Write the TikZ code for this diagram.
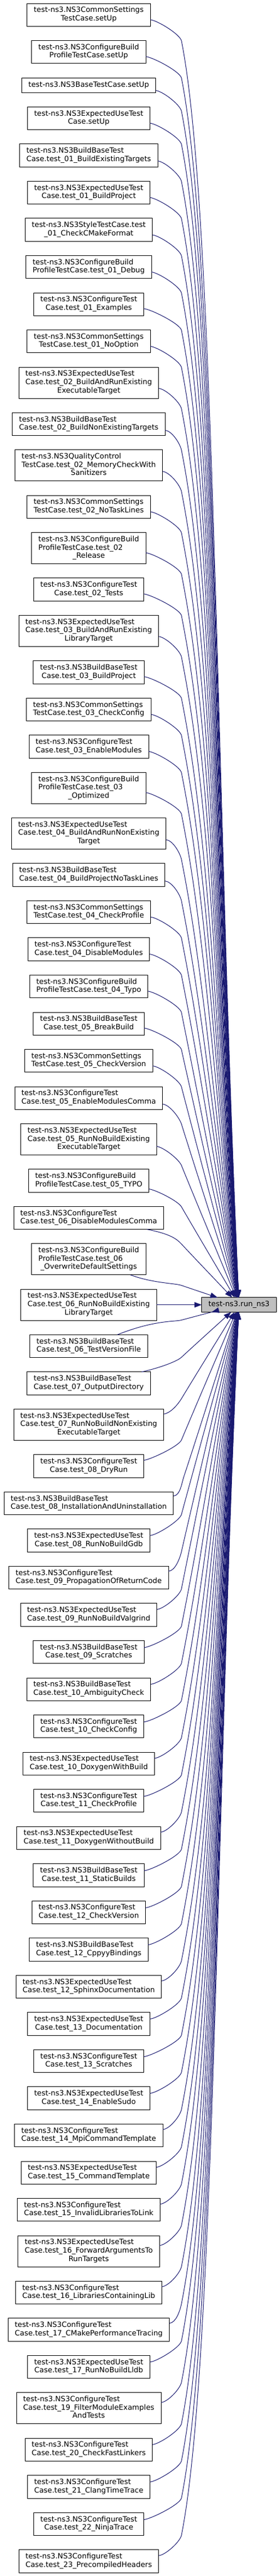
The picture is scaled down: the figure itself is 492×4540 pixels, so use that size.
\documentclass[tikz,border=0pt]{standalone}
\usepackage{fontspec}
\setmainfont{DejaVu Sans}
\usetikzlibrary{positioning,arrows.meta,calc}
\definecolor{edgeblue}{RGB}{25,25,112}
\definecolor{greyseventyfive}{RGB}{191,191,191}
\newcommand\labA[1]{\begin{tabular}{@{}c@{}}#1\end{tabular}}
\newcommand\labB[2]{\begin{tabular}{@{}l@{}}#1\\\multicolumn{1}{@{}c@{}}{#2}\end{tabular}}
\newcommand\labC[3]{\begin{tabular}{@{}l@{}}#1\\#2\\\multicolumn{1}{@{}c@{}}{#3}\end{tabular}}
\tikzset{
  boxbase/.style={draw=black, line width=0.9pt, fill=white, inner xsep=11.8pt, inner ysep=0pt, outer sep=0pt, font=\fontsize{12.9}{14.6}\selectfont, text=black},
  boxa/.style={boxbase, minimum height=26pt},
  boxb/.style={boxbase, minimum height=40.3pt},
  boxc/.style={boxbase, minimum height=55pt},
  callarrow/.style={draw=edgeblue, line width=1pt, -{Triangle[length=13pt,width=9.5pt]}},
}
\begin{document}
\begin{tikzpicture}[x=1pt,y=1pt]
\useasboundingbox (0,0) rectangle (492,-4540);
\node[boxb, anchor=north] (n1) at (156.5,-6) {\labB{test-ns3.NS3CommonSettings}{TestCase.setUp}};
\node[boxb, below=25.24pt of n1] (n2) {\labB{test-ns3.NS3ConfigureBuild}{ProfileTestCase.setUp}};
\node[boxa, below=25.24pt of n2] (n3) {\labA{test-ns3.NS3BaseTestCase.setUp}};
\node[boxb, below=25.24pt of n3] (n4) {\labB{test-ns3.NS3ExpectedUseTest}{Case.setUp}};
\node[boxb, below=25.24pt of n4] (n5) {\labB{test-ns3.NS3BuildBaseTest}{Case.test\_01\_BuildExistingTargets}};
\node[boxb, below=25.24pt of n5] (n6) {\labB{test-ns3.NS3ExpectedUseTest}{Case.test\_01\_BuildProject}};
\node[boxb, below=25.24pt of n6] (n7) {\labB{test-ns3.NS3StyleTestCase.test}{\_01\_CheckCMakeFormat}};
\node[boxb, below=25.24pt of n7] (n8) {\labB{test-ns3.NS3ConfigureBuild}{ProfileTestCase.test\_01\_Debug}};
\node[boxb, below=25.24pt of n8] (n9) {\labB{test-ns3.NS3ConfigureTest}{Case.test\_01\_Examples}};
\node[boxb, below=25.24pt of n9] (n10) {\labB{test-ns3.NS3CommonSettings}{TestCase.test\_01\_NoOption}};
\node[boxc, below=25.24pt of n10] (n11) {\labC{test-ns3.NS3ExpectedUseTest}{Case.test\_02\_BuildAndRunExisting}{ExecutableTarget}};
\node[boxb, below=25.24pt of n11] (n12) {\labB{test-ns3.NS3BuildBaseTest}{Case.test\_02\_BuildNonExistingTargets}};
\node[boxc, below=25.24pt of n12] (n13) {\labC{test-ns3.NS3QualityControl}{TestCase.test\_02\_MemoryCheckWith}{Sanitizers}};
\node[boxb, below=25.24pt of n13] (n14) {\labB{test-ns3.NS3CommonSettings}{TestCase.test\_02\_NoTaskLines}};
\node[boxc, below=25.24pt of n14] (n15) {\labC{test-ns3.NS3ConfigureBuild}{ProfileTestCase.test\_02}{\_Release}};
\node[boxb, below=25.24pt of n15] (n16) {\labB{test-ns3.NS3ConfigureTest}{Case.test\_02\_Tests}};
\node[boxc, below=25.24pt of n16] (n17) {\labC{test-ns3.NS3ExpectedUseTest}{Case.test\_03\_BuildAndRunExisting}{LibraryTarget}};
\node[boxb, below=25.24pt of n17] (n18) {\labB{test-ns3.NS3BuildBaseTest}{Case.test\_03\_BuildProject}};
\node[boxb, below=25.24pt of n18] (n19) {\labB{test-ns3.NS3CommonSettings}{TestCase.test\_03\_CheckConfig}};
\node[boxb, below=25.24pt of n19] (n20) {\labB{test-ns3.NS3ConfigureTest}{Case.test\_03\_EnableModules}};
\node[boxc, below=25.24pt of n20] (n21) {\labC{test-ns3.NS3ConfigureBuild}{ProfileTestCase.test\_03}{\_Optimized}};
\node[boxc, below=25.24pt of n21] (n22) {\labC{test-ns3.NS3ExpectedUseTest}{Case.test\_04\_BuildAndRunNonExisting}{Target}};
\node[boxb, below=25.24pt of n22] (n23) {\labB{test-ns3.NS3BuildBaseTest}{Case.test\_04\_BuildProjectNoTaskLines}};
\node[boxb, below=25.24pt of n23] (n24) {\labB{test-ns3.NS3CommonSettings}{TestCase.test\_04\_CheckProfile}};
\node[boxb, below=25.24pt of n24] (n25) {\labB{test-ns3.NS3ConfigureTest}{Case.test\_04\_DisableModules}};
\node[boxb, below=25.24pt of n25] (n26) {\labB{test-ns3.NS3ConfigureBuild}{ProfileTestCase.test\_04\_Typo}};
\node[boxb, below=25.24pt of n26] (n27) {\labB{test-ns3.NS3BuildBaseTest}{Case.test\_05\_BreakBuild}};
\node[boxb, below=25.24pt of n27] (n28) {\labB{test-ns3.NS3CommonSettings}{TestCase.test\_05\_CheckVersion}};
\node[boxb, below=25.24pt of n28] (n29) {\labB{test-ns3.NS3ConfigureTest}{Case.test\_05\_EnableModulesComma}};
\node[boxc, below=25.24pt of n29] (n30) {\labC{test-ns3.NS3ExpectedUseTest}{Case.test\_05\_RunNoBuildExisting}{ExecutableTarget}};
\node[boxb, below=25.24pt of n30] (n31) {\labB{test-ns3.NS3ConfigureBuild}{ProfileTestCase.test\_05\_TYPO}};
\node[boxb, below=25.24pt of n31] (n32) {\labB{test-ns3.NS3ConfigureTest}{Case.test\_06\_DisableModulesComma}};
\node[boxc, below=25.24pt of n32] (n33) {\labC{test-ns3.NS3ConfigureBuild}{ProfileTestCase.test\_06}{\_OverwriteDefaultSettings}};
\node[boxc, below=25.24pt of n33] (n34) {\labC{test-ns3.NS3ExpectedUseTest}{Case.test\_06\_RunNoBuildExisting}{LibraryTarget}};
\node[boxb, below=25.24pt of n34] (n35) {\labB{test-ns3.NS3BuildBaseTest}{Case.test\_06\_TestVersionFile}};
\node[boxb, below=25.24pt of n35] (n36) {\labB{test-ns3.NS3BuildBaseTest}{Case.test\_07\_OutputDirectory}};
\node[boxc, below=25.24pt of n36] (n37) {\labC{test-ns3.NS3ExpectedUseTest}{Case.test\_07\_RunNoBuildNonExisting}{ExecutableTarget}};
\node[boxb, below=25.24pt of n37] (n38) {\labB{test-ns3.NS3ConfigureTest}{Case.test\_08\_DryRun}};
\node[boxb, below=25.24pt of n38] (n39) {\labB{test-ns3.NS3BuildBaseTest}{Case.test\_08\_InstallationAndUninstallation}};
\node[boxb, below=25.24pt of n39] (n40) {\labB{test-ns3.NS3ExpectedUseTest}{Case.test\_08\_RunNoBuildGdb}};
\node[boxb, below=25.24pt of n40] (n41) {\labB{test-ns3.NS3ConfigureTest}{Case.test\_09\_PropagationOfReturnCode}};
\node[boxb, below=25.24pt of n41] (n42) {\labB{test-ns3.NS3ExpectedUseTest}{Case.test\_09\_RunNoBuildValgrind}};
\node[boxb, below=25.24pt of n42] (n43) {\labB{test-ns3.NS3BuildBaseTest}{Case.test\_09\_Scratches}};
\node[boxb, below=25.24pt of n43] (n44) {\labB{test-ns3.NS3BuildBaseTest}{Case.test\_10\_AmbiguityCheck}};
\node[boxb, below=25.24pt of n44] (n45) {\labB{test-ns3.NS3ConfigureTest}{Case.test\_10\_CheckConfig}};
\node[boxb, below=25.24pt of n45] (n46) {\labB{test-ns3.NS3ExpectedUseTest}{Case.test\_10\_DoxygenWithBuild}};
\node[boxb, below=25.24pt of n46] (n47) {\labB{test-ns3.NS3ConfigureTest}{Case.test\_11\_CheckProfile}};
\node[boxb, below=25.24pt of n47] (n48) {\labB{test-ns3.NS3ExpectedUseTest}{Case.test\_11\_DoxygenWithoutBuild}};
\node[boxb, below=25.24pt of n48] (n49) {\labB{test-ns3.NS3BuildBaseTest}{Case.test\_11\_StaticBuilds}};
\node[boxb, below=25.24pt of n49] (n50) {\labB{test-ns3.NS3ConfigureTest}{Case.test\_12\_CheckVersion}};
\node[boxb, below=25.24pt of n50] (n51) {\labB{test-ns3.NS3BuildBaseTest}{Case.test\_12\_CppyyBindings}};
\node[boxb, below=25.24pt of n51] (n52) {\labB{test-ns3.NS3ExpectedUseTest}{Case.test\_12\_SphinxDocumentation}};
\node[boxb, below=25.24pt of n52] (n53) {\labB{test-ns3.NS3ExpectedUseTest}{Case.test\_13\_Documentation}};
\node[boxb, below=25.24pt of n53] (n54) {\labB{test-ns3.NS3ConfigureTest}{Case.test\_13\_Scratches}};
\node[boxb, below=25.24pt of n54] (n55) {\labB{test-ns3.NS3ExpectedUseTest}{Case.test\_14\_EnableSudo}};
\node[boxb, below=25.24pt of n55] (n56) {\labB{test-ns3.NS3ConfigureTest}{Case.test\_14\_MpiCommandTemplate}};
\node[boxb, below=25.24pt of n56] (n57) {\labB{test-ns3.NS3ExpectedUseTest}{Case.test\_15\_CommandTemplate}};
\node[boxb, below=25.24pt of n57] (n58) {\labB{test-ns3.NS3ConfigureTest}{Case.test\_15\_InvalidLibrariesToLink}};
\node[boxc, below=25.24pt of n58] (n59) {\labC{test-ns3.NS3ExpectedUseTest}{Case.test\_16\_ForwardArgumentsTo}{RunTargets}};
\node[boxb, below=25.24pt of n59] (n60) {\labB{test-ns3.NS3ConfigureTest}{Case.test\_16\_LibrariesContainingLib}};
\node[boxb, below=25.24pt of n60] (n61) {\labB{test-ns3.NS3ConfigureTest}{Case.test\_17\_CMakePerformanceTracing}};
\node[boxb, below=25.24pt of n61] (n62) {\labB{test-ns3.NS3ExpectedUseTest}{Case.test\_17\_RunNoBuildLldb}};
\node[boxc, below=25.24pt of n62] (n63) {\labC{test-ns3.NS3ConfigureTest}{Case.test\_19\_FilterModuleExamples}{AndTests}};
\node[boxb, below=25.24pt of n63] (n64) {\labB{test-ns3.NS3ConfigureTest}{Case.test\_20\_CheckFastLinkers}};
\node[boxb, below=25.24pt of n64] (n65) {\labB{test-ns3.NS3ConfigureTest}{Case.test\_21\_ClangTimeTrace}};
\node[boxb, below=25.24pt of n65] (n66) {\labB{test-ns3.NS3ConfigureTest}{Case.test\_22\_NinjaTrace}};
\node[boxb, below=25.24pt of n66] (n67) {\labB{test-ns3.NS3ConfigureTest}{Case.test\_23\_PrecompiledHeaders}};
\coordinate (runx) at (421.5,0);
\node[boxa, fill=greyseventyfive, minimum height=25.5pt] (run) at (n34 -| runx) {\labA{test-ns3.run\_ns3}};
\foreach \i in {1,...,67}{
  \ifnum\i=34\relax\else
  \draw[callarrow] let \p1=(n\i.center), \p2=(n\i.east), \p3=(run.center),
    \n1={max(abs(\y3-\y1),47)},
    \n2={sign(\y3-\y1)},
    \n3={max(0.08,min(0.4,30/\n1))},
    \n4={min(\n1-46,500)},
    \n5={100*veclen(1,\n4/100)},
    \n6={min(0.25*\n1,300)},
    \n7={max(320,\x2+18)},
    \n8={\n4/\n5},
    \n9={100/\n5} in
    (n\i) .. controls ({\x2+12},{\y1+\n2*\n3*(\x2+12-\x1)}) and ({\n7-12*\n9},{\y1+\n2*46-\n2*12*\n8}) .. ({\n7},{\y1+\n2*46})
    .. controls ({\n7+\n6*\n9},{\y1+\n2*46+\n2*\n6*\n8}) and ({\x3-0.4*(\x3-\n7)},{\y3-\n2*0.4*(\n1-46)}) .. (run);
  \fi
}
\draw[callarrow] (n34) -- (run);
\end{tikzpicture}
\end{document}
